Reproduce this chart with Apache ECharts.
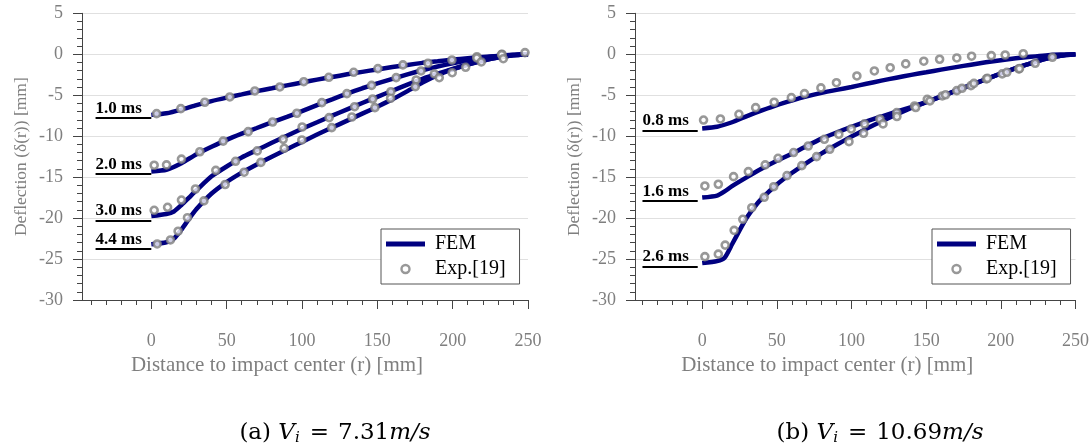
<!DOCTYPE html>
<html>
<head>
<meta charset="utf-8">
<script src="https://cdn.jsdelivr.net/npm/echarts@6/dist/echarts.min.js"></script>
<style>html,body{margin:0;padding:0;background:#fff;}#c{width:1092px;height:445px;}</style>
</head>
<body>
<div id="c"></div>
<script>
// ---------- DATA ----------
// Panel (a) Vi = 7.31 m/s : FEM curves [r, deflection]
const fem_a_10 = [[0,-7.4],[10,-7.2],[20,-6.75],[30,-6.2],[40,-5.72],[50,-5.3],[60,-4.9],[70,-4.5],[80,-4.15],[90,-3.8],[100,-3.45],[110,-3.1],[120,-2.78],[130,-2.45],[140,-2.15],[150,-1.85],[160,-1.55],[170,-1.3],[180,-1.05],[190,-0.85],[200,-0.65],[210,-0.48],[220,-0.33],[230,-0.2],[240,-0.08],[250,0]];
const fem_a_20 = [[0,-14.3],[10,-14.1],[20,-13.3],[30,-12.2],[40,-11.3],[50,-10.45],[60,-9.7],[70,-9.0],[80,-8.3],[90,-7.65],[100,-6.95],[110,-6.2],[120,-5.5],[130,-4.8],[140,-4.15],[150,-3.55],[160,-3.0],[170,-2.45],[180,-1.95],[190,-1.5],[200,-1.1],[210,-0.75],[220,-0.45],[230,-0.22],[240,-0.07],[250,0]];
const fem_a_30 = [[0,-19.75],[10,-19.5],[15,-19.2],[20,-18.4],[25,-17.5],[30,-16.6],[40,-14.9],[50,-13.7],[60,-12.6],[70,-11.7],[80,-10.8],[90,-9.95],[100,-9.1],[110,-8.3],[120,-7.5],[130,-6.72],[140,-5.95],[150,-5.2],[160,-4.45],[170,-3.7],[180,-3.0],[190,-2.38],[200,-1.8],[210,-1.25],[220,-0.78],[230,-0.4],[240,-0.13],[250,0]];
const fem_a_44 = [[0,-23.2],[10,-22.95],[15,-22.5],[20,-21.4],[25,-20.1],[30,-18.9],[40,-17.0],[50,-15.6],[60,-14.45],[70,-13.45],[80,-12.5],[90,-11.6],[100,-10.7],[110,-9.8],[120,-8.95],[130,-8.1],[140,-7.25],[150,-6.4],[160,-5.5],[170,-4.5],[180,-3.45],[190,-2.55],[200,-1.85],[210,-1.27],[220,-0.8],[230,-0.41],[240,-0.13],[250,0]];
// Panel (a) experiments
const exp_a_10 = [[3.5,-7.25],[19.6,-6.64],[35.5,-5.86],[52.1,-5.21],[68.7,-4.48],[85.3,-3.99],[101.2,-3.35],[117.8,-2.81],[134.3,-2.2],[150.4,-1.75],[167,-1.3],[183.6,-1.1],[199.5,-0.7],[216.1,-0.3],[232.7,0.0],[248,0.2]];
const exp_a_20 = [[1.9,-13.55],[10.1,-13.5],[20,-12.8],[32.2,-11.9],[47.7,-10.6],[64.3,-9.45],[80.5,-8.27],[96.6,-7.2],[113.2,-5.9],[129.8,-4.8],[146.2,-3.8],[162.5,-2.85],[179,-2.04],[216,-0.45],[232.5,-0.05]];
const exp_a_30 = [[1.9,-19.05],[10.8,-18.68],[20,-17.8],[29.3,-16.45],[42.8,-14.17],[55.9,-13.07],[70.3,-11.8],[87.5,-10.38],[100.1,-8.88],[118,-7.74],[134.9,-6.4],[146.9,-5.46],[159,-4.57],[175.8,-3.14],[187.8,-2.4],[208.6,-1.59]];
const exp_a_44 = [[3.9,-23.16],[12.7,-22.67],[17.8,-21.6],[24,-19.95],[34.9,-17.9],[49,-15.9],[61.6,-14.4],[72.7,-13.2],[88.2,-11.48],[99.9,-10.46],[119.7,-8.96],[133.1,-7.66],[148.4,-6.52],[158.8,-5.37],[175.2,-3.96],[191.1,-2.86],[199.7,-2.25],[219,-0.94],[233.6,-0.54]];
const labels_a = ['1.0 ms','2.0 ms','3.0 ms','4.4 ms'];
const labelY_a = [-7.78,-14.6,-20.3,-23.8];

// Panel (b) Vi = 10.69 m/s
const fem_b_08 = [[0,-9.05],[10,-8.85],[20,-8.3],[30,-7.55],[40,-6.85],[50,-6.2],[60,-5.65],[70,-5.15],[80,-4.72],[90,-4.35],[100,-4.0],[110,-3.6],[120,-3.22],[130,-2.86],[140,-2.52],[150,-2.2],[160,-1.88],[170,-1.57],[180,-1.27],[190,-0.98],[200,-0.72],[210,-0.49],[220,-0.3],[230,-0.14],[240,-0.04],[250,0]];
const fem_b_16 = [[0,-17.5],[10,-17.25],[15,-16.75],[20,-16.1],[30,-15.0],[40,-13.95],[50,-13.0],[60,-12.15],[70,-11.2],[80,-10.3],[90,-9.55],[100,-8.85],[110,-8.2],[120,-7.6],[130,-7.0],[140,-6.45],[150,-5.85],[160,-5.15],[170,-4.45],[180,-3.75],[190,-3.05],[200,-2.35],[210,-1.7],[220,-1.1],[230,-0.55],[240,-0.18],[250,0]];
const fem_b_26 = [[0,-25.5],[10,-25.25],[15,-24.85],[20,-23.2],[25,-21.5],[30,-19.9],[35,-18.65],[40,-17.6],[50,-15.9],[60,-14.5],[70,-13.25],[80,-12.1],[90,-11.05],[100,-10.05],[110,-9.1],[120,-8.2],[130,-7.35],[140,-6.55],[150,-5.85],[160,-5.15],[170,-4.45],[180,-3.75],[190,-3.05],[200,-2.35],[210,-1.7],[220,-1.1],[230,-0.55],[240,-0.18],[250,0]];
const exp_b_08 = [[0.9,-8.03],[12.2,-7.9],[24.6,-7.33],[35.8,-6.52],[48.2,-5.86],[59.7,-5.3],[68.5,-4.81],[79.5,-4.11],[89.9,-3.47],[103.6,-2.65],[115.3,-2.04],[125.9,-1.64],[136.3,-1.18],[148.4,-0.85],[159,-0.61],[170.5,-0.45],[180.4,-0.24],[193.6,-0.17],[202.9,-0.09],[215,0.07]];
const exp_b_16 = [[1.8,-16.08],[10.8,-15.87],[21,-14.94],[30.9,-14.33],[42.2,-13.5],[50.8,-12.7],[61.2,-12.0],[71,-11.2],[81.8,-10.38],[91.5,-9.77],[99.8,-9.12],[108.7,-8.5],[119,-7.9],[130.3,-7.13],[142.2,-6.31],[150.7,-5.5],[160.8,-5.09],[170.5,-4.44],[180,-3.83],[190.3,-3.01],[200.9,-2.4],[212,-1.79],[223,-1.1],[234.5,-0.37]];
const exp_b_26 = [[1.8,-24.7],[10.8,-24.4],[15.4,-23.3],[21.4,-21.5],[27.2,-20.15],[33.2,-18.73],[41.5,-17.46],[47.9,-16.17],[56.8,-14.82],[66.7,-13.6],[76.6,-12.5],[85.4,-11.6],[98.3,-10.67],[108.1,-9.65],[121.1,-8.5],[130.4,-7.6],[143,-6.5],[152.5,-5.7],[163,-4.95],[174,-4.15],[182,-3.55],[191,-2.95],[204,-2.2],[212.5,-1.75]];
const labels_b = ['0.8 ms','1.6 ms','2.6 ms'];
const labelY_b = [-9.3,-17.9,-25.9];

// Axis ticks
const xMajor = [0,50,100,150,200,250];
const xMinor = [-40,-30,-20,-10,10,20,30,40,60,70,80,90,110,120,130,140,160,170,180,190,210,220,230,240];
const yMin = -30, yMax = 5, yStep = 5;
const xMax = 250;
const xMinA = -46, xMinB = -45;
const captions = ['(a) {it|V}{sub|i}{eq|=}7.31{it|m/s}', '(b) {it|V}{sub|i}{eq|=}10.69{it|m/s}'];

// ---------- CHART ----------
const SERIF = "'Liberation Serif','DejaVu Serif',serif";
const CAPF = "'DejaVu Serif','Liberation Serif',serif";
const GRAY = '#7f7f7f';
const AXC = '#444';
const NAVY = '#000080';
const EXPC = '#7e7e7e';

const grids = [
  {left: 82, right: 1092 - 528, top: 13.3, bottom: 145},
  {left: 635, right: 1092 - 1080, top: 13.3, bottom: 145}
];

function xAxesFor(g, xmin) {
  return [
    {
      type: 'value', gridIndex: g, min: xmin, max: xMax, position: 'bottom',
      name: 'Distance to impact center (r) [mm]', nameLocation: 'middle', nameGap: 54,
      nameTextStyle: {fontFamily: SERIF, fontSize: 21, color: GRAY, padding: [0, 56, 0, 0]},
      axisLine: {show: true, onZero: false, lineStyle: {color: AXC, width: 1}},
      axisTick: {show: true, length: 9, customValues: xMajor, lineStyle: {color: AXC}},
      axisLabel: {show: true, customValues: xMajor, margin: 32, fontFamily: SERIF, fontSize: 18, color: GRAY},
      splitLine: {show: false}
    },
    {
      type: 'value', gridIndex: g, min: xmin, max: xMax, position: 'bottom', offset: 0,
      axisLine: {show: false, onZero: false},
      axisTick: {show: true, length: 5, customValues: xMinor, lineStyle: {color: AXC}},
      axisLabel: {show: false},
      splitLine: {show: false}
    }
  ];
}
function yAxisFor(g) {
  return {
    type: 'value', gridIndex: g, min: yMin, max: yMax, interval: yStep,
    name: 'Deflection (δ(r)) [mm]', nameLocation: 'middle', nameGap: 52, nameRotate: 90,
    nameTextStyle: {fontFamily: SERIF, fontSize: 17.5, color: GRAY},
    axisLine: {show: true, onZero: false, lineStyle: {color: AXC, width: 1}},
    axisTick: {show: true, length: 9, lineStyle: {color: AXC}},
    minorTick: {show: true, splitNumber: 5, length: 5, lineStyle: {color: AXC}},
    axisLabel: {margin: 19, fontFamily: SERIF, fontSize: 18, color: GRAY},
    splitLine: {show: true, lineStyle: {color: '#e0e0e0', width: 1}}
  };
}

function femSeries(data, g, marks) {
  const s = {
    type: 'line', name: 'FEM', xAxisIndex: 2 * g, yAxisIndex: g, data: data,
    showSymbol: false, symbol: 'none', smooth: 0.2,
    lineStyle: {color: NAVY, width: 4.5}, itemStyle: {color: NAVY},
    z: 2, animation: false, silent: true
  };
  if (marks) s.markLine = marks;
  return s;
}
function expSeries(data, g) {
  return {
    type: 'scatter', name: 'Exp.[19]', xAxisIndex: 2 * g, yAxisIndex: g, data: data,
    symbol: 'circle', symbolSize: 7,
    itemStyle: {color: '#fff', borderColor: EXPC, borderWidth: 2.6},
    z: 3, animation: false, silent: true
  };
}
function labelMarks(names, ys, x0, x1) {
  return {
    silent: true, symbol: 'none', animation: false,
    lineStyle: {color: '#000', width: 2, type: 'solid'},
    label: {
      show: true, position: 'insideStartTop', formatter: '{b}', distance: [0, 1],
      color: '#000', fontFamily: SERIF, fontWeight: 'bold', fontSize: 17
    },
    emphasis: {disabled: true},
    data: names.map((n, i) => [{name: n, coord: [x0, ys[i]]}, {coord: [x1, ys[i]]}])
  };
}
function legendFor(left) {
  return {
    orient: 'vertical', left: left, top: 229, selectedMode: false,
    itemWidth: 39, itemHeight: 8, itemGap: 5,
    padding: [5, 14, 5, 5],
    backgroundColor: '#fff', borderColor: '#555', borderWidth: 1, borderRadius: 0,
    textStyle: {fontFamily: SERIF, fontSize: 20, color: '#000', padding: [0, 0, 0, 5]},
    data: [
      {name: 'FEM', icon: 'path://M0,0H78V10H0Z', itemStyle: {color: NAVY}},
      {name: 'Exp.[19]', icon: 'circle', itemStyle: {color: '#fff', borderColor: EXPC, borderWidth: 2.4}}
    ]
  };
}
function caption(text, cx) {
  return {
    type: 'text', x: cx, y: 433, silent: true,
    style: {
      text: text, align: 'center', verticalAlign: 'middle',
      fontFamily: CAPF, fontSize: 23, fill: '#000',
      rich: {
        it: {fontFamily: CAPF, fontSize: 23, fontStyle: 'italic', fill: '#000'},
        eq: {fontFamily: CAPF, fontSize: 23, fill: '#000', padding: [0, 9, 0, 9]},
        sub: {fontFamily: CAPF, fontSize: 15, fontStyle: 'italic', fill: '#000', verticalAlign: 'bottom', padding: [10, 1, 0, 0]}
      }
    }
  };
}

const chart = echarts.init(document.getElementById('c'), null, {renderer: 'canvas'});
chart.setOption({
  animation: false,
  backgroundColor: '#fff',
  grid: grids,
  xAxis: [].concat(xAxesFor(0, xMinA), xAxesFor(1, xMinB)),
  yAxis: [yAxisFor(0), yAxisFor(1)],
  legend: [legendFor(381), legendFor(932)],
  series: [
    femSeries(fem_a_10, 0, labelMarks(labels_a, labelY_a, -37, 0)),
    femSeries(fem_a_20, 0), femSeries(fem_a_30, 0), femSeries(fem_a_44, 0),
    expSeries(exp_a_10, 0), expSeries(exp_a_20, 0), expSeries(exp_a_30, 0), expSeries(exp_a_44, 0),
    femSeries(fem_b_08, 1, labelMarks(labels_b, labelY_b, -40, -3)),
    femSeries(fem_b_16, 1), femSeries(fem_b_26, 1),
    expSeries(exp_b_08, 1), expSeries(exp_b_16, 1), expSeries(exp_b_26, 1)
  ],
  graphic: [caption(captions[0], 335), caption(captions[1], 880)]
});
</script>
</body>
</html>
